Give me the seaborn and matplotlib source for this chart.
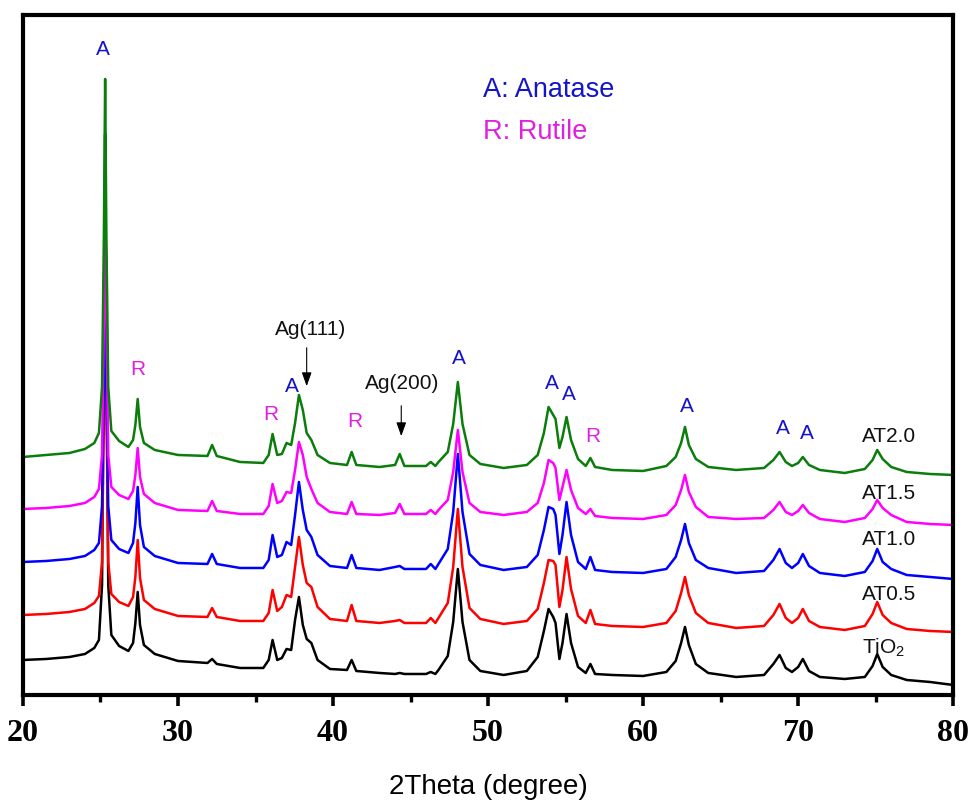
import matplotlib
matplotlib.use("Agg")
import matplotlib.pyplot as plt
import pandas as pd
import seaborn as sns

# 2theta positions (degree) shared by all patterns
two_theta = [20.0, 21.5, 23.0, 24.0, 24.6, 24.9, 25.1, 25.22, 25.3, 25.38, 25.5, 25.7, 26.2, 26.8,
             27.1, 27.25, 27.4, 27.55, 27.8, 28.5, 30.0, 31.9, 32.2, 32.5, 34.0, 35.5, 35.85, 36.1,
             36.4, 36.7, 37.0, 37.3, 37.55, 37.8, 38.05, 38.3, 38.6, 39.0, 39.8, 40.9, 41.2, 41.5,
             43.0, 44.0, 44.3, 44.6, 46.0, 46.3, 46.6, 46.8, 47.4, 47.75, 48.05, 48.35, 48.8, 49.5,
             51.0, 52.5, 53.2, 53.6, 53.9, 54.2, 54.35, 54.6, 54.8, 55.06, 55.35, 55.8, 56.3, 56.6,
             56.9, 58.0, 60.0, 61.5, 62.1, 62.45, 62.7, 62.95, 63.4, 64.2, 66.0, 67.8, 68.4, 68.8,
             69.2, 69.6, 70.0, 70.3, 70.7, 71.4, 73.0, 74.3, 74.8, 75.1, 75.45, 76.0, 77.0, 78.5, 80.0]

# Stacked intensities (a.u.)
at20 = [238, 240, 242, 246, 252, 262, 308, 460, 616, 460, 308, 264, 254, 248,
        255, 270, 296, 268, 252, 245, 240, 239, 250, 239, 233, 232, 240, 261,
        240, 241, 252, 250, 272, 300, 285, 262, 255, 240, 232, 230, 243, 230,
        228, 230, 241, 229, 229, 233, 229, 233, 243, 271, 313, 271, 240, 231,
        227, 230, 240, 262, 288, 280, 276, 247, 258, 278, 255, 236, 229, 237,
        228, 225, 224, 229, 238, 252, 268, 250, 236, 228, 225, 227, 235, 243,
        233, 229, 232, 238, 230, 225, 222, 226, 235, 245, 236, 228, 223, 221, 220]

at15 = [186, 187, 189, 192, 198, 206, 240, 380, 523, 380, 240, 208, 200, 196,
        204, 220, 247, 218, 201, 192, 185, 184, 194, 184, 181, 181, 189, 211,
        192, 194, 203, 202, 225, 253, 240, 218, 206, 192, 183, 181, 193, 181,
        180, 182, 191, 181, 181, 185, 181, 185, 195, 223, 265, 223, 192, 183,
        180, 183, 192, 212, 235, 232, 227, 195, 208, 225, 205, 187, 181, 186,
        179, 177, 176, 180, 190, 205, 220, 203, 188, 178, 176, 177, 185, 193,
        183, 180, 184, 190, 182, 176, 173, 177, 186, 195, 187, 180, 173, 171, 170]

at10 = [133, 134, 136, 139, 145, 152, 189, 314, 443, 314, 189, 155, 146, 142,
        152, 172, 208, 170, 148, 139, 132, 131, 141, 131, 127, 127, 135, 160,
        138, 140, 153, 150, 180, 213, 185, 165, 158, 140, 129, 127, 140, 127,
        125, 128, 129, 126, 126, 131, 126, 131, 146, 183, 241, 183, 141, 130,
        125, 128, 140, 165, 188, 186, 180, 141, 160, 193, 160, 133, 126, 138,
        125, 123, 122, 126, 138, 155, 171, 152, 135, 127, 122, 124, 135, 146,
        132, 127, 132, 141, 129, 122, 119, 123, 134, 146, 133, 126, 120, 118, 116]

at05 = [80, 81, 83, 86, 92, 99, 133, 300, 426, 300, 133, 101, 93, 89,
        98, 118, 155, 117, 95, 86, 79, 78, 87, 78, 74, 74, 82, 105,
        84, 88, 100, 98, 128, 158, 130, 112, 108, 88, 76, 74, 90, 74,
        72, 74, 75, 72, 72, 77, 72, 77, 92, 128, 186, 128, 87, 76,
        71, 74, 86, 112, 135, 134, 130, 88, 105, 138, 106, 79, 72, 85,
        71, 69, 68, 72, 84, 102, 118, 100, 82, 72, 67, 69, 80, 91,
        77, 72, 77, 86, 74, 68, 65, 69, 81, 93, 80, 72, 66, 64, 63]

tio2 = [35, 36, 38, 41, 47, 55, 110, 340, 561, 340, 110, 60, 49, 44,
        52, 72, 103, 70, 50, 41, 34, 32, 36, 31, 27, 27, 35, 55,
        35, 37, 46, 45, 75, 98, 70, 56, 52, 35, 26, 25, 35, 24,
        22, 21, 22, 21, 21, 23, 21, 25, 39, 73, 126, 73, 35, 24,
        20, 24, 38, 64, 86, 78, 72, 36, 52, 81, 52, 28, 22, 31,
        21, 20, 19, 23, 34, 52, 68, 50, 31, 22, 18, 20, 31, 40,
        27, 23, 28, 36, 24, 18, 16, 18, 29, 41, 28, 20, 15, 13, 10]

samples = ["TiO2", "AT0.5", "AT1.0", "AT1.5", "AT2.0"]
sample_labels = [r"TiO$\mathregular{_2}$", "AT0.5", "AT1.0", "AT1.5", "AT2.0"]
label_y = [41, 95, 150, 196, 253]
colors = ["#000000", "#ff0000", "#0000ff", "#ff00ff", "#0a7d0a"]

# Phase markers: (2theta, height)
anatase_marks = [(25.16, 645), (37.35, 308), (48.13, 336), (54.13, 311), (55.23, 300),
                 (62.84, 288), (69.03, 266), (70.58, 261)]
rutile_marks = [(27.42, 325), (36.0, 280), (41.42, 273), (56.77, 258)]

frames = []
for name, vals in zip(samples, [tio2, at05, at10, at15, at20]):
    frames.append(pd.DataFrame({"2theta": two_theta, "intensity": vals, "sample": name}))
df = pd.concat(frames, ignore_index=True)

sns.set_theme(style="white")
plt.rcParams["font.family"] = ["Liberation Sans", "DejaVu Sans"]
plt.rcParams["text.color"] = "black"
plt.rcParams["axes.labelcolor"] = "black"
plt.rcParams["xtick.color"] = "black"

fig = plt.figure(figsize=(9.69, 8.10), dpi=100)
ax = fig.add_axes([0.0237, 0.1420, 0.96, 0.8395])

sns.lineplot(data=df, x="2theta", y="intensity", hue="sample", hue_order=samples,
             palette=colors, estimator=None, sort=False, linewidth=1.8, legend=False, ax=ax)

ax.set_xlim(20, 80)
ax.set_ylim(0, 680)
ax.set_yticks([])
ax.set_ylabel("")
ax.set_xticks([20, 30, 40, 50, 60, 70, 80])
ax.set_xticks([25, 35, 45, 55, 65, 75], minor=True)
ax.tick_params(axis="x", which="major", direction="out", length=8, width=2.6,
               bottom=True, pad=9, colors="black")
ax.tick_params(axis="x", which="minor", direction="out", length=5, width=2.4, bottom=True)
for lab in ax.get_xticklabels():
    lab.set_family(["Liberation Serif", "DejaVu Serif"])
    lab.set_fontweight("bold")
    lab.set_fontsize(23)
for sp in ax.spines.values():
    sp.set_linewidth(3)
    sp.set_color("black")

ax.set_xlabel("2Theta (degree)", fontsize=20, labelpad=19, color="black")

blue_txt = "#1414c8"
mag_txt = "#e020e0"
for x, y in anatase_marks:
    ax.text(x, y, "A", color=blue_txt, fontsize=15, ha="center", va="center")
for x, y in rutile_marks:
    ax.text(x, y, "R", color=mag_txt, fontsize=15, ha="center", va="center")

ax.text(49.68, 605, "A: Anatase", color=blue_txt, fontsize=19.5, ha="left", va="center")
ax.text(49.68, 563, "R: Rutile", color=mag_txt, fontsize=19.5, ha="left", va="center")

for lab, y in zip(sample_labels, label_y):
    ax.text(74.13, y, lab, color="#111111", fontsize=15, ha="left", va="baseline")

ax.text(38.58, 365, "Ag(111)", color="#111111", fontsize=15, ha="center", va="center")
ax.annotate("", xy=(38.3, 306), xytext=(38.3, 350),
            arrowprops=dict(arrowstyle="-|>,head_length=0.7,head_width=0.25",
                            color="black", lw=0.8))
ax.text(44.45, 311, "Ag(200)", color="#111111", fontsize=15, ha="center", va="center")
ax.annotate("", xy=(44.4, 256), xytext=(44.4, 292),
            arrowprops=dict(arrowstyle="-|>,head_length=0.7,head_width=0.25",
                            color="black", lw=0.8))

fig.savefig("out.png", dpi=100)
